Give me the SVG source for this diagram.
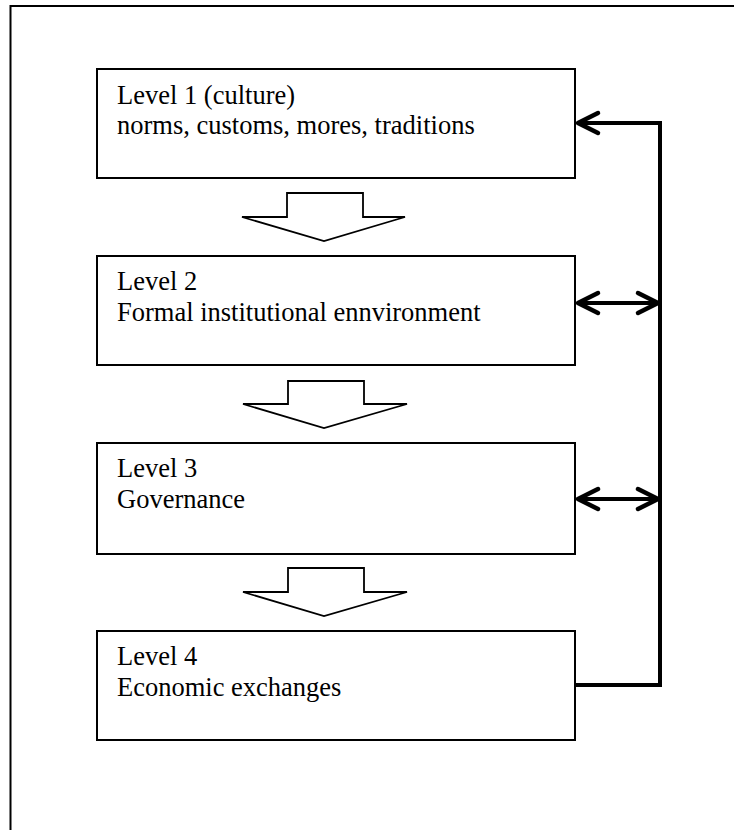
<svg xmlns="http://www.w3.org/2000/svg" width="734" height="830" viewBox="0 0 734 830">
<style>
.frame{fill:none;stroke:#000;stroke-width:2}
.box{fill:#fff;stroke:#000;stroke-width:2}
.txt{font-family:"Liberation Serif","Times New Roman",serif;font-size:26.5px;fill:#000}
.block{fill:#fff;stroke:#000;stroke-width:1.8;stroke-linejoin:miter}
.conn{fill:none;stroke:#000;stroke-width:4}
.head{fill:none;stroke:#000;stroke-width:4.5;stroke-linecap:round;stroke-linejoin:round}
</style>
<rect width="734" height="830" fill="#fff"/>
<rect class="frame" x="10.5" y="6" width="740" height="840"/>
<g id="level1">
<rect class="box" x="97" y="69" width="478" height="109"/>
<text class="txt" x="117" y="104">Level 1 (culture)</text>
<text class="txt" x="117" y="134">norms, customs, mores, traditions</text>
</g>
<g id="level2">
<rect class="box" x="97" y="256" width="478" height="109"/>
<text class="txt" x="117" y="290">Level 2</text>
<text class="txt" x="117" y="321">Formal institutional ennvironment</text>
</g>
<g id="level3">
<rect class="box" x="97" y="443" width="478" height="111"/>
<text class="txt" x="117" y="477">Level 3</text>
<text class="txt" x="117" y="508">Governance</text>
</g>
<g id="level4">
<rect class="box" x="97" y="631" width="478" height="109"/>
<text class="txt" x="117" y="665">Level 4</text>
<text class="txt" x="117" y="696">Economic exchanges</text>
</g>
<g id="connectors">
<polygon class="block" points="287,193 363,193 363,217 405,217 324,241 242,217 287,217"/>
<polygon class="block" points="288,381 364,381 364,404 407,404 324,428 243,404 288,404"/>
<polygon class="block" points="288,568 364,568 364,592 407,592 324,616 243,592 288,592"/>
<polyline class="conn" points="576,685 660,685 660,123 578,123"/>
<line class="conn" x1="578" y1="303" x2="658" y2="303"/>
<line class="conn" x1="578" y1="499" x2="658" y2="499"/>
<polyline class="head" points="598,113 578,123 598,133"/>
<polyline class="head" points="598,293 578,303 598,313"/>
<polyline class="head" points="638,293 658,303 638,313"/>
<polyline class="head" points="598,489 578,499 598,509"/>
<polyline class="head" points="638,489 658,499 638,509"/>
</g>
</svg>
